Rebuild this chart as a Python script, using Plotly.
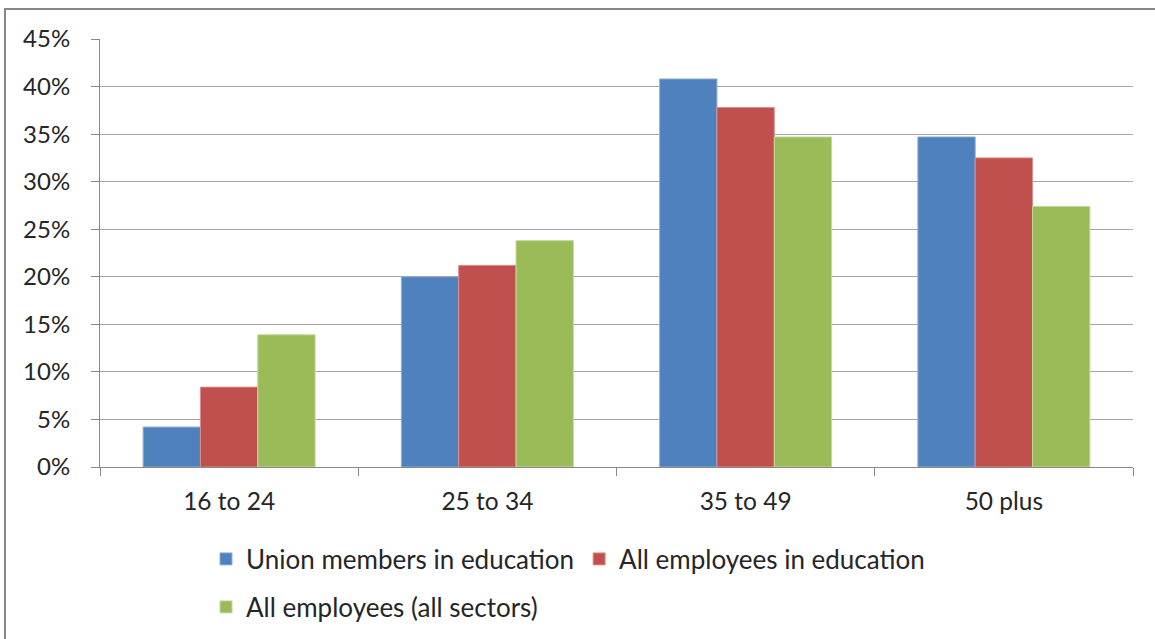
import plotly.graph_objects as go

categories = ["16 to 24", "25 to 34", "35 to 49", "50 plus"]
union_edu = [4.2, 20.0, 40.8, 34.7]
all_edu = [8.4, 21.2, 37.8, 32.5]
all_sectors = [13.9, 23.8, 34.7, 27.4]
series_names = ["Union members in education", "All employees in education", "All employees (all sectors)"]
colors = ["#4F81BD", "#C0504D", "#9BBB59"]
edge_colors = ["#8DAEDA", "#DC8E8C", "#C3D99B"]
y_ticks = [0, 5, 10, 15, 20, 25, 30, 35, 40, 45]
y_tick_labels = ["0%", "5%", "10%", "15%", "20%", "25%", "30%", "35%", "40%", "45%"]

FONT = "Lato"
TXT = "#262626"

fig = go.Figure()
for name, vals, col, edge, lg in zip(series_names, [union_edu, all_edu, all_sectors], colors, edge_colors,
                                     ["legend", "legend", "legend2"]):
    fig.add_trace(go.Bar(x=categories, y=vals, name=name, legend=lg,
                         marker=dict(color=col, line=dict(color=edge, width=1))))

W, H = 1155, 639
L, R, T, B = 100, 22, 39, 172
pw, ph = W - L - R, H - T - B

def px_x(x):
    return (x - L) / pw

def px_y(y):
    return (H - B - y) / ph

LEG_FONT = dict(family=FONT, size=26, color=TXT)

fig.update_layout(
    width=W, height=H,
    margin=dict(l=L, r=R, t=T, b=B, autoexpand=False),
    paper_bgcolor="white", plot_bgcolor="white",
    font=dict(family=FONT, size=24, color=TXT),
    barmode="group", bargap=0.334, bargroupgap=0,
    showlegend=True,
    legend=dict(orientation="h", x=px_x(206), xanchor="left", y=px_y(559), yanchor="middle",
                font=LEG_FONT, bgcolor="rgba(0,0,0,0)",
                itemclick=False, itemdoubleclick=False, traceorder="normal"),
    legend2=dict(orientation="h", x=px_x(206), xanchor="left", y=px_y(607), yanchor="middle",
                 font=LEG_FONT, bgcolor="rgba(0,0,0,0)",
                 itemclick=False, itemdoubleclick=False),
    xaxis=dict(type="category", tickson="boundaries", ticks="outside", ticklen=8, tickcolor="#888888",
               showline=True, linecolor="#888888", linewidth=1, showgrid=False,
               tickfont=dict(family=FONT, size=24.5, color=TXT), ticklabelstandoff=13),
    yaxis=dict(range=[0, 45], tickmode="array", tickvals=y_ticks, ticktext=y_tick_labels,
               ticks="outside", ticklen=8,
               tickcolor="#888888", showline=True, linecolor="#888888", linewidth=1,
               showgrid=True, gridcolor="#A6A6A6", gridwidth=1.3, zeroline=False,
               tickfont=dict(family=FONT, size=24, color=TXT), ticklabelstandoff=16),
    shapes=[dict(type="rect", xref="paper", yref="paper",
                 x0=px_x(5), x1=px_x(1175), y0=px_y(660), y1=px_y(9),
                 line=dict(color="#868686", width=2), fillcolor="rgba(0,0,0,0)", layer="below")],
)

fig.write_html("out.html", config={"displayModeBar": False},
               post_script="document.body.style.margin='0';")
